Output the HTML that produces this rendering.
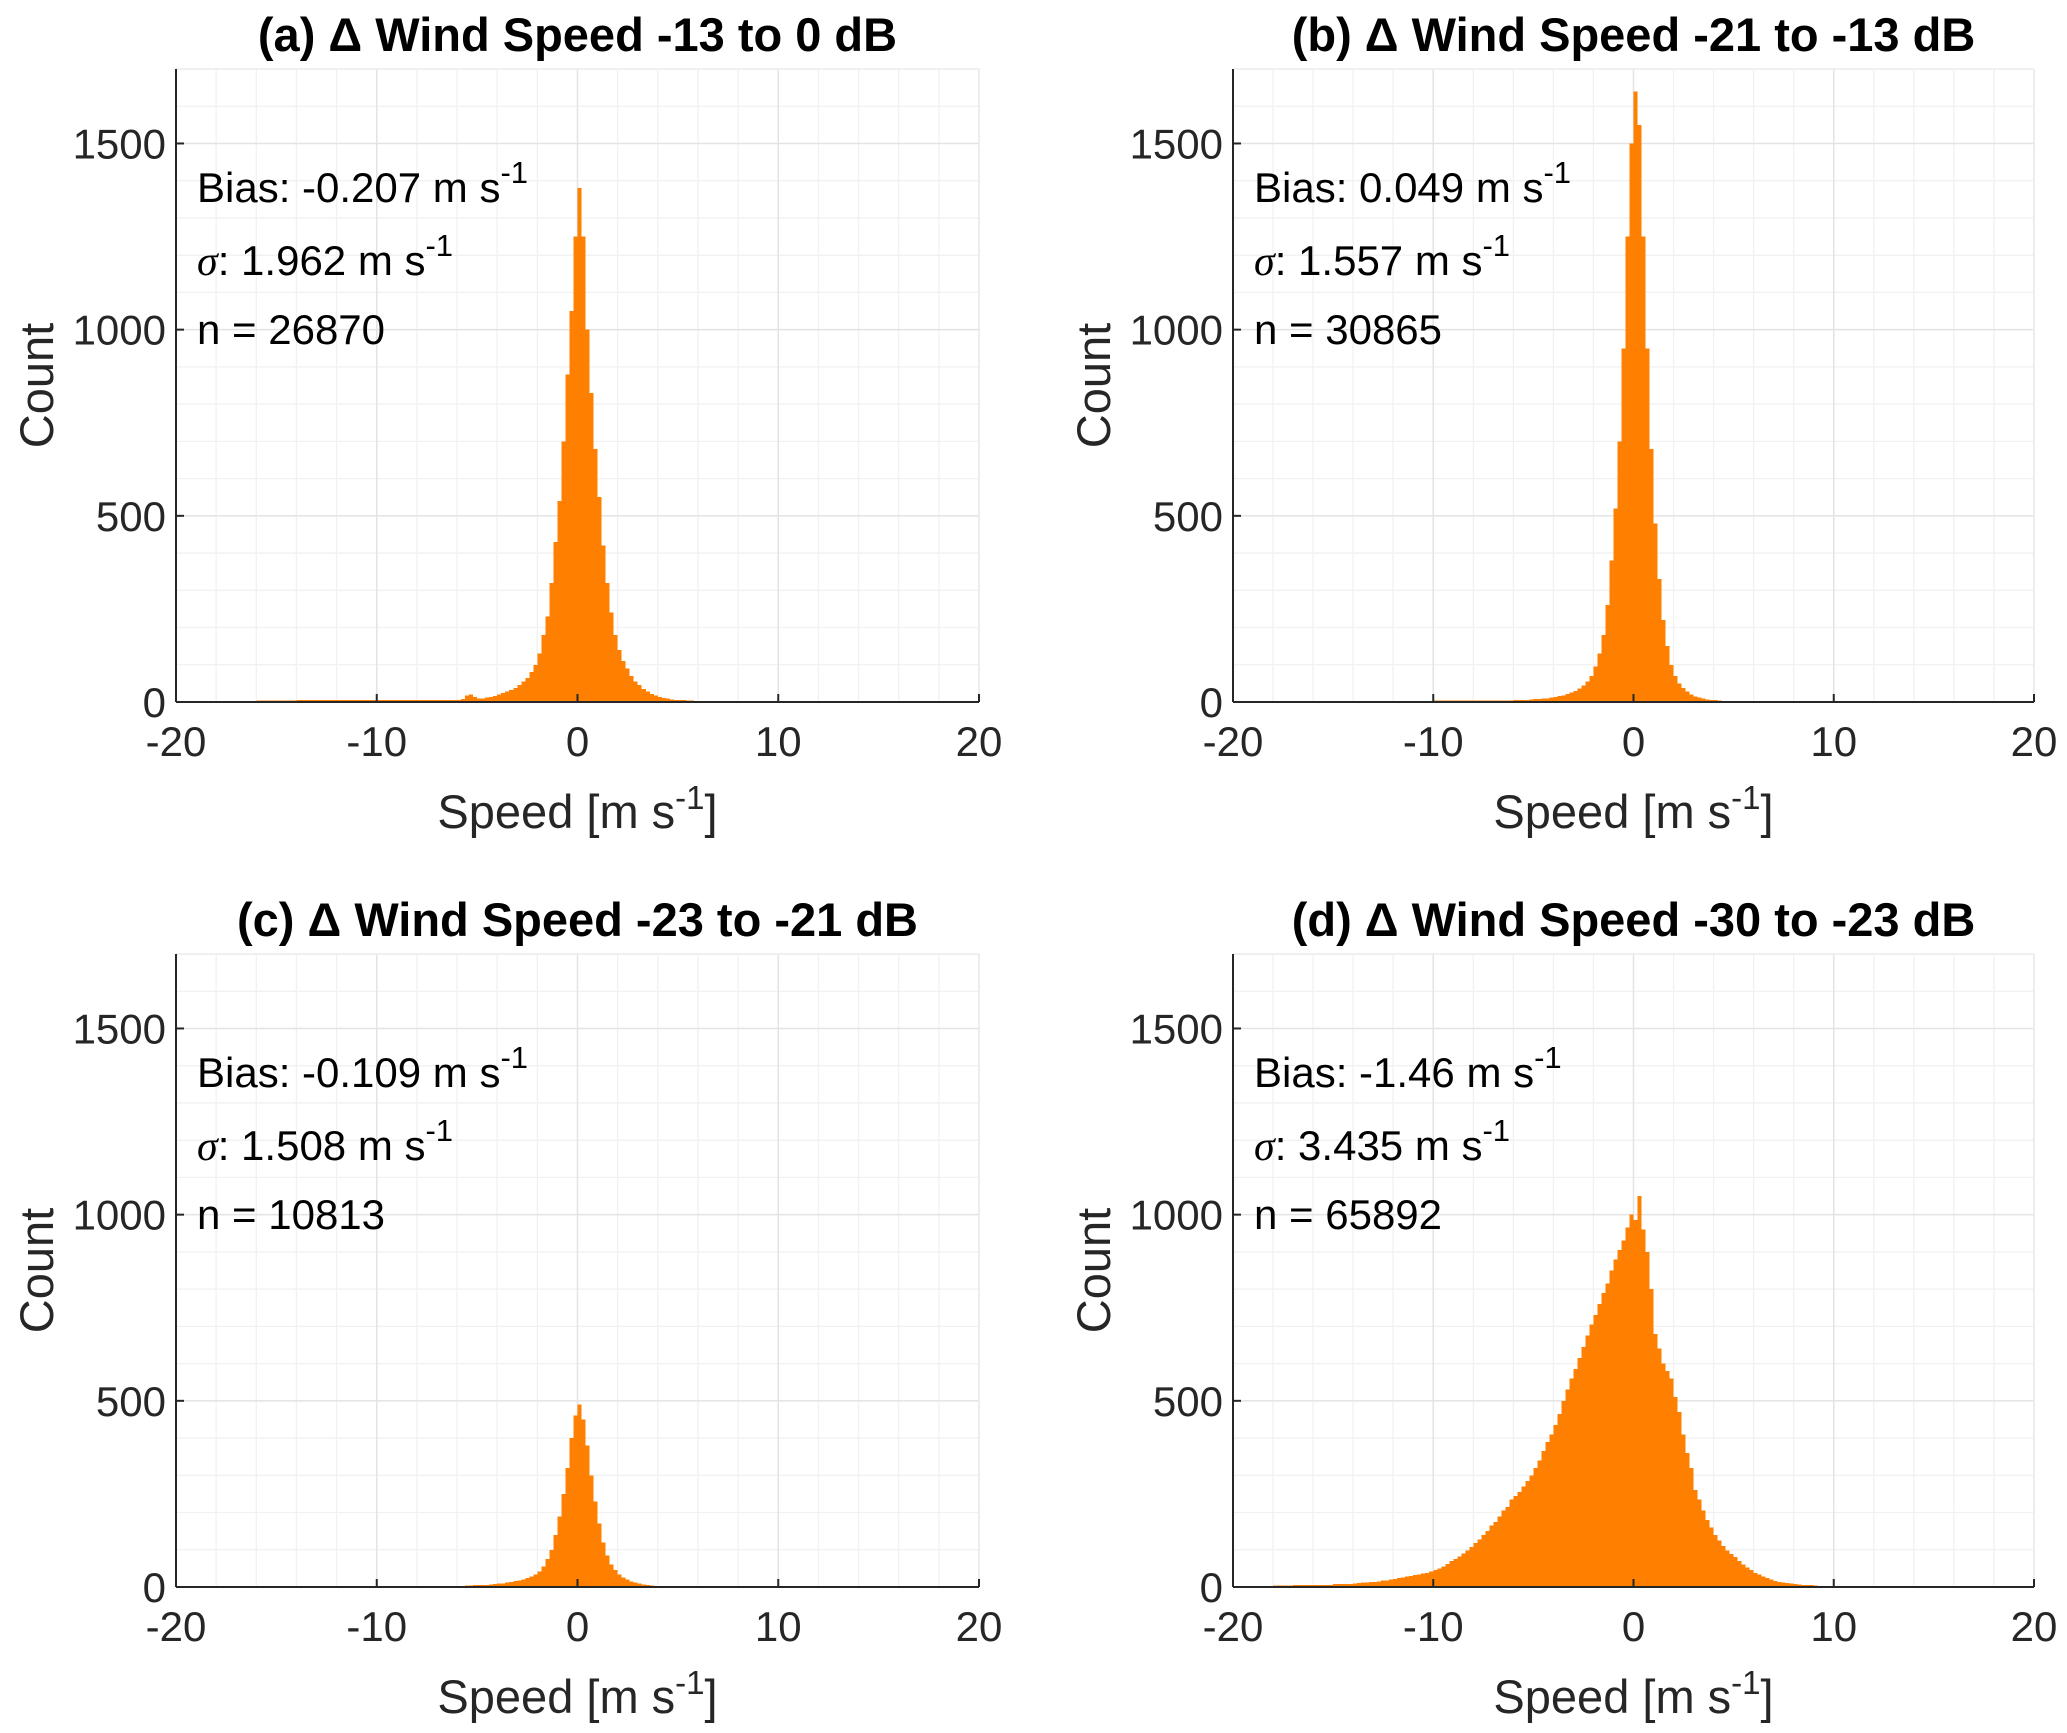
<!DOCTYPE html>
<html><head><meta charset="utf-8">
<style>
html,body{margin:0;padding:0;background:#fff;}
svg{display:block;font-family:"Liberation Sans",sans-serif;}
</style></head>
<body>
<svg id="fig" width="2067" height="1733" viewBox="0 0 2067 1733" xmlns="http://www.w3.org/2000/svg"></svg>
<script>
// ---- data (bin width 0.2 in core, 1.0 in tails) ----
const coreBinW = 0.2;
const tailBinW = 1.0;
const titles = ["(a) \u0394 Wind Speed -13 to 0 dB","(b) \u0394 Wind Speed -21 to -13 dB","(c) \u0394 Wind Speed -23 to -21 dB","(d) \u0394 Wind Speed -30 to -23 dB"];
const biasLabels = ["-0.207","0.049","-0.109","-1.46"];
const sigmaLabels = ["1.962","1.557","1.508","3.435"];
const nLabels = ["26870","30865","10813","65892"];
const xTicks = [-20,-10,0,10,20];
const yTicks = [0,500,1000,1500];

const coreStartA = -6;
const coreA = [6,8,18,20,14,10,10,12,14,16,20,24,28,32,38,
 45,55,65,80,100,130,180,230,320,430,540,700,880,1050,1250,
 1380,1250,1000,830,680,550,420,320,240,180,140,110,90,70,55,45,35,28,22,18,14,11,9,7,6,5,5,4,4,3];
const leftTailA = [2,3,3,3,4,4,5,5,5,5,6,6,6,6];
const rightTailA = [3,2,2,2,1,1,1,1,1,1,1,1,1,1];

const coreStartB = -6;
const coreB = [5,5,6,6,7,8,8,9,10,12,14,16,18,22,26,
 30,36,44,55,70,95,130,180,260,380,520,700,950,1250,1500,
 1640,1550,1250,950,680,480,330,220,150,100,70,50,38,28,20,15,12,9,7,6,5,4,3,3,2,2,2,1,1,1];
const leftTailB = [3,3,3,3,3,3,3,3,3,3,4,4,4,4];
const rightTailB = [1,1,1,1,1,1,1,1,1,1,1,1,1,1];

const coreStartC = -6;
const coreC = [3,3,4,4,5,5,6,6,7,8,9,10,12,14,16,
 18,20,24,28,34,42,55,75,100,140,190,250,320,400,460,
 490,450,380,300,230,170,120,85,60,45,34,26,20,15,12,9,7,5,4,3,3,2,2,2,1,1,1,1,1,1];
const leftTailC = [2,2,2,2,2,2,2,2,2,2,2,2,2,2];
const rightTailC = [1,1,1,1,1,1,1,1,1,1,1,1,1,1];

const coreStartD = -14;
const coreD = [10,11,12,12,13, 14,15,17,18,20, 22,24,26,28,30, 32,34,36,38,42,
 45,50,55,62,70, 75,82,90,98,108, 118,128,140,150,165, 175,190,205,215,235,
 245,255,270,285,300, 320,340,365,390,410, 435,465,500,530,560, 585,615,645,675,705,
 730,760,790,815,850, 880,905,930,965,1000, 985,1050,960,900,800, 680,640,600,580,560,
 510,470,410,360,320, 260,235,205,180,160, 140,125,110,98,88, 80,70,60,52,45,
 38,33,28,24,20, 16,14,12,11,10, 8,7,6,5,5, 4,3,3,2,2];
const leftTailD = [2,3,4,5,6,8];
const rightTailD = [1,1,1,1,1,1,1,1,1,1];

const panelsData = [
 {core:coreA, start:coreStartA, lt:leftTailA, rt:rightTailA},
 {core:coreB, start:coreStartB, lt:leftTailB, rt:rightTailB},
 {core:coreC, start:coreStartC, lt:leftTailC, rt:rightTailC},
 {core:coreD, start:coreStartD, lt:leftTailD, rt:rightTailD}
];

// ---- layout ----
const NS = "http://www.w3.org/2000/svg";
const svg = document.getElementById('fig');
const boxes = [
 {l:176,r:979,t:69,b:702},
 {l:1233,r:2034,t:69,b:702},
 {l:176,r:979,t:954,b:1587},
 {l:1233,r:2034,t:954,b:1587}
];
const XMIN=-20,XMAX=20,YMAX=1700;
function mk(tag, attrs, parent){const e=document.createElementNS(NS,tag);for(const k in attrs)e.setAttribute(k,attrs[k]);(parent||svg).appendChild(e);return e;}

boxes.forEach((B,i)=>{
 const sx=v=>B.l+(v-XMIN)/(XMAX-XMIN)*(B.r-B.l);
 const sy=v=>B.b-v/YMAX*(B.b-B.t);
 const g=mk('g',{});
 
 
 for(let x=XMIN;x<=XMAX;x+=2){ if(x%10===0) continue; mk('line',{x1:sx(x),x2:sx(x),y1:B.t,y2:B.b,stroke:'#f1f1f1','stroke-width':1.3},g);}
 for(let y=100;y<=YMAX;y+=100){ if(y%500===0) continue; mk('line',{x1:B.l,x2:B.r,y1:sy(y),y2:sy(y),stroke:'#f1f1f1','stroke-width':1.3},g);}
 xTicks.forEach(x=>mk('line',{x1:sx(x),x2:sx(x),y1:B.t,y2:B.b,stroke:'#e3e3e3','stroke-width':1.5},g));
 yTicks.forEach(y=>mk('line',{x1:B.l,x2:B.r,y1:sy(y),y2:sy(y),stroke:'#e3e3e3','stroke-width':1.5},g));
 mk('line',{x1:B.l,x2:B.r,y1:B.t,y2:B.t,stroke:'#ececec','stroke-width':1.5},g);
 mk('line',{x1:B.r,x2:B.r,y1:B.t,y2:B.b,stroke:'#ececec','stroke-width':1.5},g);
 const D=panelsData[i];
 const bars=mk('g',{fill:'#ff7f00','shape-rendering':'crispEdges'},g);
 
 
 function bar(x0,w,c){const x1=sx(x0),x2=sx(x0+w);const y=sy(c);const r=mk('rect',{x:x1,y:y,width:Math.max(0.5,x2-x1),height:B.b-y},bars);
   
   }
 D.core.forEach((c,k)=>bar(D.start+k*coreBinW,coreBinW,c));
 D.lt.forEach((c,k)=>bar(D.start-(D.lt.length-k)*tailBinW,tailBinW,c));
 const coreEnd=D.start+D.core.length*coreBinW;
 D.rt.forEach((c,k)=>bar(coreEnd+k*tailBinW,tailBinW,c));
 mk('line',{x1:B.l,x2:B.l,y1:B.t,y2:B.b,stroke:'#262626','stroke-width':2},g);
 mk('line',{x1:B.l,x2:B.r,y1:B.b,y2:B.b,stroke:'#262626','stroke-width':2},g);
 xTicks.forEach(x=>{mk('line',{x1:sx(x),x2:sx(x),y1:B.b,y2:B.b-8,stroke:'#262626','stroke-width':2},g);
   const t=mk('text',{x:sx(x),y:B.b+54,'text-anchor':'middle','font-size':42,fill:'#262626'},g);t.textContent=x;
   
   });
 yTicks.forEach(y=>{mk('line',{x1:B.l,x2:B.l+8,y1:sy(y),y2:sy(y),stroke:'#262626','stroke-width':2},g);
   const t=mk('text',{x:B.l-10,y:sy(y)+15,'text-anchor':'end','font-size':42,fill:'#262626'},g);t.textContent=y;
   
   });
 const tt=mk('text',{x:(B.l+B.r)/2,y:B.t-18,'text-anchor':'middle','font-size':47,'font-weight':'bold',fill:'#000'},g);
 tt.textContent=titles[i];
 
 
 const yl=mk('text',{x:0,y:0,'text-anchor':'middle','font-size':47,fill:'#262626',transform:`translate(${B.l-123},${(B.t+B.b)/2}) rotate(-90)`},g);
 yl.textContent='Count';
 
 
 const xl=mk('text',{x:(B.l+B.r)/2,y:B.b+126,'text-anchor':'middle','font-size':47,fill:'#262626'},g);
 xl.innerHTML='Speed [m s<tspan dy="-19" font-size="33">-1</tspan><tspan dy="19">]</tspan>';
 
 
 const tx=B.l+21;
 const a1=mk('text',{x:tx,y:B.t+133,'font-size':42,fill:'#000'},g);
 a1.innerHTML='Bias: '+biasLabels[i]+' m s<tspan dy="-19" font-size="31">-1</tspan>';
 
 
 const a2=mk('text',{x:tx,y:B.t+206,'font-size':42,fill:'#000'},g);
 a2.innerHTML='<tspan font-family="Liberation Serif, serif" font-style="italic">\u03c3</tspan>: '+sigmaLabels[i]+' m s<tspan dy="-19" font-size="31">-1</tspan>';
 
 
 const a3=mk('text',{x:tx,y:B.t+275,'font-size':42,fill:'#000'},g);
 a3.textContent='n = '+nLabels[i];
 
 
});
</script>
</body></html>
